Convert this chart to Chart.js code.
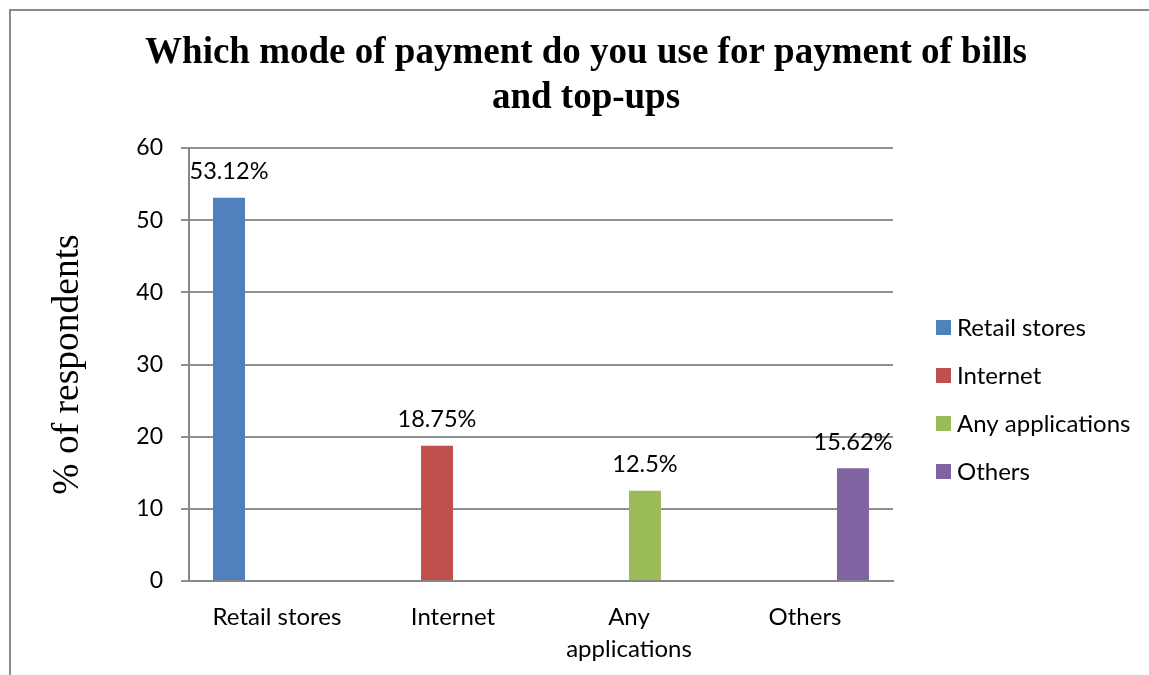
<!DOCTYPE html>
<html>
<head>
<meta charset="utf-8">
<title>Mode of payment for bills and top-ups</title>
<script src="https://cdn.jsdelivr.net/npm/chart.js@4"></script>
<style>
  html, body { margin: 0; padding: 0; background: #fff; }
  #wrap { position: relative; width: 1149px; height: 675px; overflow: hidden; }
  #frame {
    position: absolute; left: 9px; top: 9px; width: 1300px; height: 800px;
    border-left: 2px solid #8a8a8a; border-top: 2px solid #8a8a8a;
  }
  #grafico { position: absolute; left: 0; top: 0; }
</style>
</head>
<body>
<div id="wrap">
  <div id="frame"></div>
  <canvas id="grafico" width="1149" height="675"></canvas>
</div>
<script>
// Dados do gráfico
const categorias = ['Retail stores', 'Internet', ['Any', 'applications'], 'Others'];
const series = ['Retail stores', 'Internet', 'Any applications', 'Others'];
const percentuais = [53.12, 18.75, 12.5, 15.62];
const rotulos = ['53.12%', '18.75%', '12.5%', '15.62%'];
const ticksY = [0, 10, 20, 30, 40, 50, 60];

const titulo = ['Which mode of payment do you use for payment of bills', 'and top-ups'];
const tituloEixoY = '% of respondents';

// Cores (paleta padrão do Excel)
const cores = ['#4f81bd', '#c0504d', '#9bbb59', '#8064a2'];

const fonteSans = "Lato, 'Open Sans', sans-serif";
const fonteSerif = "'Liberation Serif', 'DejaVu Serif', serif";

// Cada série ocupa só a sua categoria, mantendo o espaço das outras no grupo
const datasets = series.map((nome, i) => ({
  label: nome,
  data: categorias.map((_, j) => (j === i ? percentuais[i] : null)),
  backgroundColor: cores[i],
  borderWidth: 0,
  categoryPercentage: 0.727,
  barPercentage: 1
}));

// Título do gráfico
const pluginTitulo = {
  id: 'tituloGrafico',
  afterDraw(chart) {
    const ctx = chart.ctx;
    ctx.save();
    ctx.fillStyle = '#000';
    ctx.font = 'bold 37px ' + fonteSerif;
    ctx.textAlign = 'center';
    ctx.textBaseline = 'middle';
    ctx.fillText(titulo[0], 586, 53);
    ctx.fillText(titulo[1], 586, 98);
    ctx.restore();
  }
};

// Rótulos de valor acima das barras
const pluginRotulos = {
  id: 'rotulosValor',
  afterDatasetsDraw(chart) {
    const ctx = chart.ctx;
    ctx.save();
    ctx.fillStyle = '#000';
    ctx.font = '23.5px ' + fonteSans;
    ctx.textAlign = 'center';
    ctx.textBaseline = 'middle';
    chart.data.datasets.forEach((ds, i) => {
      const barra = chart.getDatasetMeta(i).data[i];
      ctx.fillText(rotulos[i], barra.x, barra.y - 26);
    });
    ctx.restore();
  }
};

// Legenda à direita
const pluginLegenda = {
  id: 'legendaDireita',
  afterDraw(chart) {
    const ctx = chart.ctx;
    ctx.save();
    ctx.font = '24px ' + fonteSans;
    ctx.textBaseline = 'middle';
    ctx.textAlign = 'left';
    series.forEach((nome, i) => {
      const y = 327 + i * 48;
      ctx.fillStyle = cores[i];
      ctx.fillRect(936, y - 7, 15, 15);
      ctx.fillStyle = '#000';
      ctx.fillText(nome, 957, y + 1);
    });
    ctx.restore();
  }
};

const ctxGrafico = document.getElementById('grafico').getContext('2d');
new Chart(ctxGrafico, {
  type: 'bar',
  data: { labels: categorias, datasets: datasets },
  options: {
    responsive: false,
    animation: false,
    devicePixelRatio: 1,
    layout: { padding: { top: 148, right: 256, bottom: 0, left: 0 } },
    plugins: {
      legend: { display: false },
      title: { display: false },
      tooltip: { enabled: false }
    },
    scales: {
      x: {
        grid: { display: false },
        border: { display: true, color: '#888888', width: 2 },
        ticks: {
          color: '#000',
          font: { family: fonteSans, size: 24, lineHeight: 1.333 },
          padding: 12,
          maxRotation: 0,
          autoSkip: false
        },
        afterFit(escala) { escala.height = 94; }
      },
      y: {
        min: 0,
        max: 60,
        afterBuildTicks(escala) { escala.ticks = ticksY.map(v => ({ value: v })); },
        grid: { color: '#909090', lineWidth: 2, tickLength: 8 },
        border: { display: true, color: '#888888', width: 2 },
        ticks: {
          color: '#000',
          font: { family: fonteSans, size: 23 },
          padding: 18
        },
        title: {
          display: true,
          text: tituloEixoY,
          color: '#000',
          font: { family: fonteSerif, size: 37.5 },
          padding: { top: 46, bottom: 0 }
        },
        afterFit(escala) { escala.width = 189; }
      }
    }
  },
  plugins: [pluginTitulo, pluginRotulos, pluginLegenda]
});
</script>
</body>
</html>
